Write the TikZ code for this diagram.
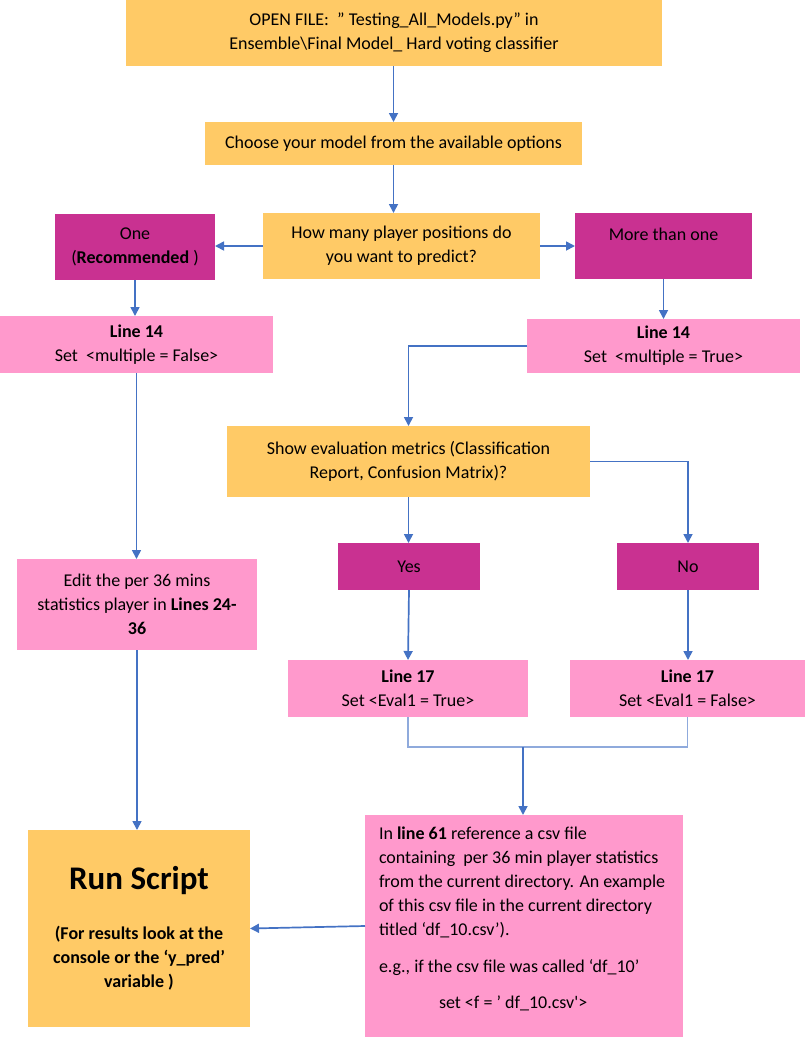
\documentclass[tikz,border=0pt]{standalone}
\usepackage{fontspec}
\setmainfont{Carlito}
\usetikzlibrary{arrows.meta}
\definecolor{boxorange}{HTML}{FFCA66}
\definecolor{boxmag}{HTML}{C93191}
\definecolor{boxpink}{HTML}{FF99CC}
\definecolor{arrblue}{HTML}{4472C4}
\definecolor{lightblue}{HTML}{8FAADC}
\tikzset{
  base/.style={inner sep=0pt, outer sep=0pt, align=center, font=\fontsize{18}{24}\selectfont, text=black},
  orangebox/.style={base, fill=boxorange},
  magbox/.style={base, fill=boxmag},
  pinkbox/.style={base, fill=boxpink},
  arr/.style={draw=arrblue, line width=1.7pt, -{Triangle[width=9pt,length=9pt]}},
  joinline/.style={draw=lightblue, line width=1.3pt}
}
\newcommand{\bx}[6]{% style, name, x, y, w, h
  \node[#1, minimum width=#5, minimum height=#6] (#2) at (#3,#4)}
\begin{document}
\begin{tikzpicture}[x=1pt,y=-1pt]
\useasboundingbox (0,0) rectangle (807,1039);
\bx{orangebox}{top}{394}{33}{536pt}{66pt} {OPEN FILE:\ \ ” Testing\_All\_Models.py” in\\Ensemble\textbackslash Final Model\_ Hard voting classifier};
\bx{orangebox}{choose}{393.5}{143.5}{377pt}{43pt} {Choose your model from the available options};
\bx{orangebox}{question}{401.5}{246}{277pt}{66pt} {How many player positions do\\you want to predict?};
\bx{magbox}{one}{135}{247}{160pt}{66pt} {One\\(\textbf{Recommended} )};
\bx{magbox}{more}{663.5}{246}{177pt}{66pt} {More than one\\\phantom{X}};
\bx{pinkbox}{ltL}{136.5}{344.5}{273pt}{57pt} {\textbf{Line 14}\\Set\ \ <multiple = False>};
\bx{pinkbox}{ltR}{663.5}{346}{273pt}{54pt} {\textbf{Line 14}\\Set\ \ <multiple = True>};
\bx{orangebox}{show}{408.5}{461.5}{363pt}{71pt} {Show evaluation metrics (Classification\\Report, Confusion Matrix)?};
\bx{magbox}{yes}{409}{566.5}{142pt}{47pt} {Yes};
\bx{magbox}{no}{688}{566.5}{142pt}{47pt} {No};
\bx{pinkbox}{lsL}{408}{688.5}{240pt}{57pt} {\textbf{Line 17}\\Set <Eval1 = True>};
\bx{pinkbox}{lsR}{687.5}{688.5}{235pt}{57pt} {\textbf{Line 17}\\Set <Eval1 = False>};
\bx{pinkbox}{edit}{137}{604.5}{240pt}{91pt} {Edit the per 36 mins\\statistics player in \textbf{Lines 24-}\\\textbf{36}};
\bx{orangebox}{run}{139}{928.5}{222pt}{197pt} {{\fontsize{33}{38}\selectfont\bfseries Run Script}\\[26pt]\bfseries (For results look at the\\\bfseries console or the ‘y\_pred’\\\bfseries variable )};
\bx{pinkbox}{csv}{524}{926}{318pt}{222pt} {\begin{minipage}{290pt}\fontsize{18}{24}\selectfont
In \textbf{line 61} reference a csv file\\
containing\ \ per 36 min player statistics\\
from the current directory. An example\\
of this csv file in the current directory\\
titled ‘df\_10.csv’).\\[13pt]
e.g., if the csv file was called ‘df\_10’\\[12pt]
\hspace*{60pt}set <f = ’ df\_10.csv\textquotesingle>\par\vspace*{14pt}
\end{minipage}};
\coordinate (join) at (523,747);
\draw[arr] (top.south -| choose.north) -- (choose.north);
\draw[arr] (choose.south) -- (choose.south |- question.north);
\draw[arr] (question.west) -- (question.west -| one.east);
\draw[arr] (question.east) -- (question.east -| more.west);
\draw[arr] (one.south) -- (one.south |- ltL.north);
\draw[arr] (more.south) -- (more.south |- ltR.north);
\draw[arr] (ltR.west) -| (show.north);
\draw[arr] (show.east) -| (no.north);
\draw[arr] (show.south) -- (show.south |- yes.north);
\draw[arr] (yes.south) -- (lsL.north);
\draw[arr] (no.south) -- (no.south |- lsR.north);
\draw[joinline] (lsL.south) |- (join) -| (lsR.south);
\draw[arr] (join) -- (join |- csv.north);
\draw[arr] (ltL.south) -- (ltL.south |- edit.north);
\draw[arr] (edit.south) -- (edit.south |- run.north);
\draw[arr] (csv.west) -- (run.east);
\end{tikzpicture}
\end{document}
